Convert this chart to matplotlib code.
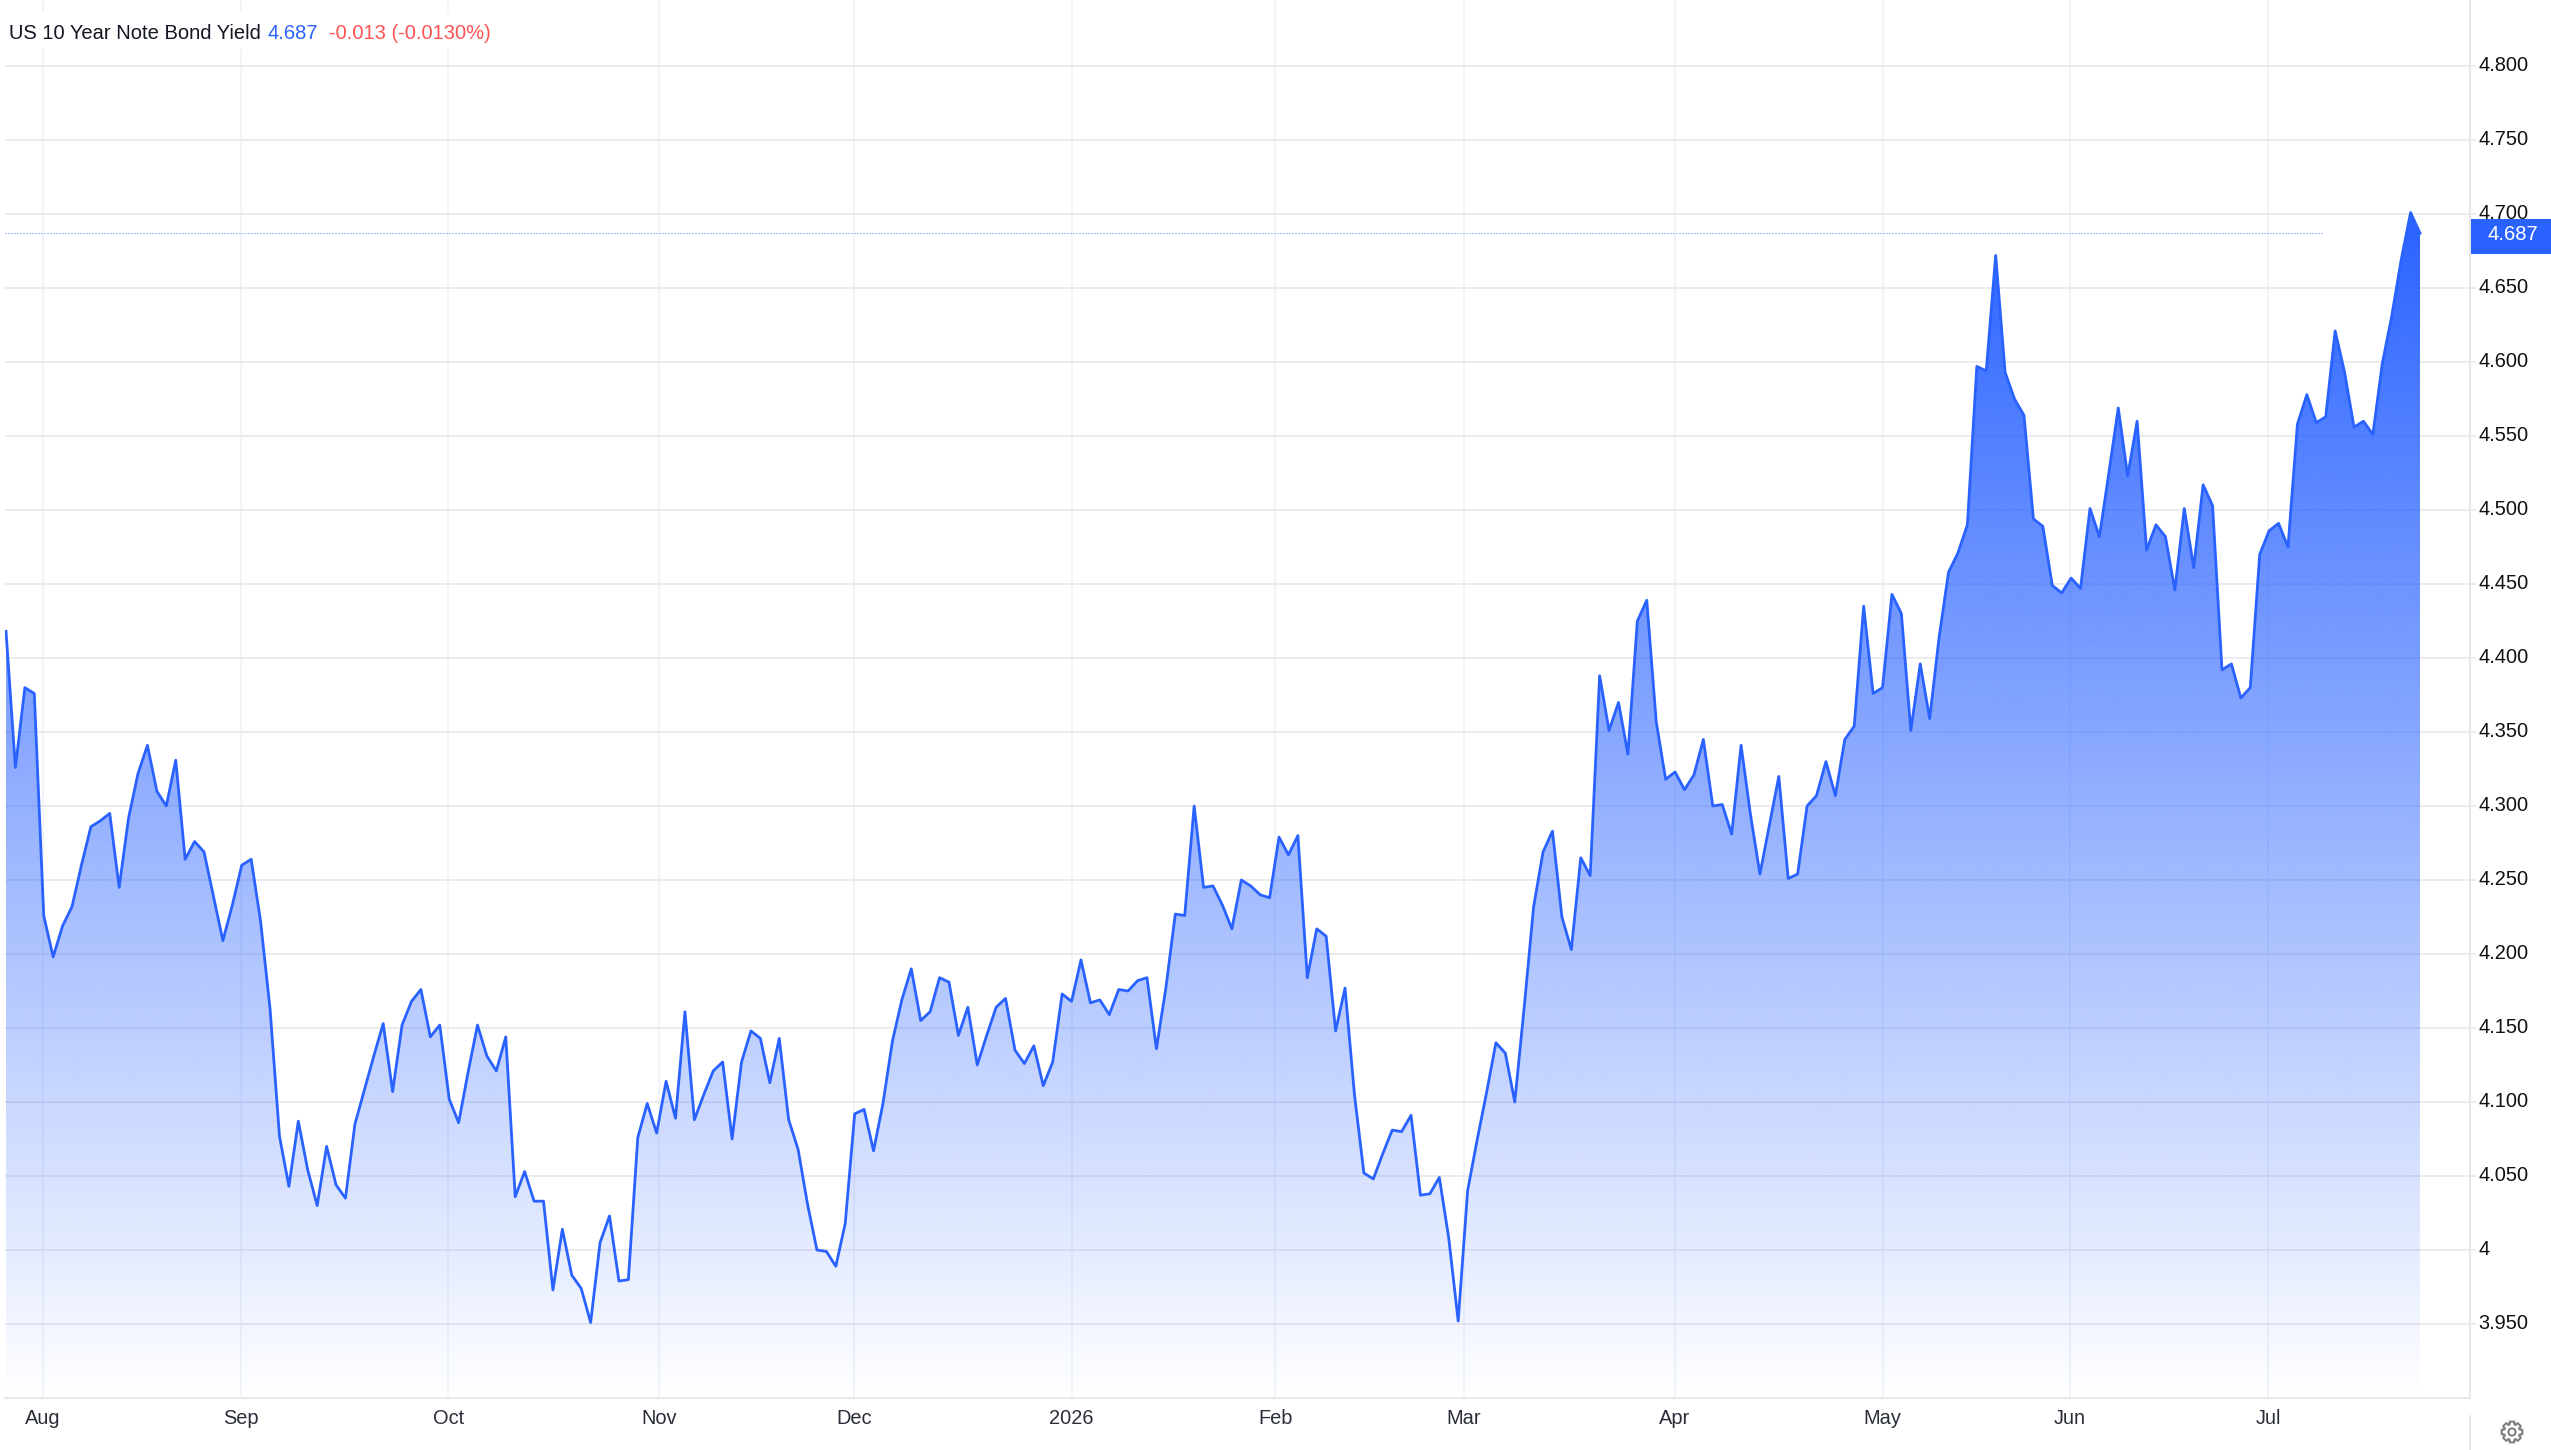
"""
US 10 Year Note Bond Yield: daily close over one year, area chart with a
vertical blue fade, right hand price axis and a last-price tag.
"""
import numpy as np
import matplotlib
matplotlib.use("Agg")
import matplotlib.pyplot as plt
from matplotlib.patches import Rectangle, Polygon, Circle
from matplotlib.transforms import IdentityTransform, ScaledTranslation
from matplotlib.colors import to_rgb

# ── Data ──────────────────────────────────────────────────────────────────
YIELD = [
    4.418, 4.326, 4.380, 4.376, 4.226, 4.198, 4.219, 4.232, 4.260, 4.286,
    4.290, 4.295, 4.245, 4.292, 4.322, 4.341, 4.310, 4.300, 4.331, 4.264,
    4.276, 4.269, 4.239, 4.209, 4.233, 4.260, 4.264, 4.222, 4.163, 4.077,
    4.043, 4.087, 4.054, 4.030, 4.070, 4.044, 4.035, 4.085, 4.108, 4.131,
    4.153, 4.107, 4.152, 4.168, 4.176, 4.144, 4.152, 4.102, 4.086, 4.120,
    4.152, 4.131, 4.121, 4.144, 4.036, 4.053, 4.033, 4.033, 3.973, 4.014,
    3.983, 3.974, 3.951, 4.005, 4.023, 3.979, 3.980, 4.076, 4.099, 4.079,
    4.114, 4.089, 4.161, 4.088, 4.105, 4.121, 4.127, 4.075, 4.127, 4.148,
    4.143, 4.113, 4.143, 4.088, 4.068, 4.031, 4.000, 3.999, 3.989, 4.018,
    4.092, 4.095, 4.067, 4.099, 4.141, 4.169, 4.190, 4.155, 4.161, 4.184,
    4.181, 4.145, 4.164, 4.125, 4.145, 4.164, 4.170, 4.135, 4.126, 4.138,
    4.111, 4.127, 4.173, 4.168, 4.196, 4.167, 4.169, 4.159, 4.176, 4.175,
    4.182, 4.184, 4.136, 4.177, 4.227, 4.226, 4.300, 4.245, 4.246, 4.233,
    4.217, 4.250, 4.246, 4.240, 4.238, 4.279, 4.267, 4.280, 4.184, 4.217,
    4.212, 4.148, 4.177, 4.105, 4.052, 4.048, 4.065, 4.081, 4.080, 4.091,
    4.037, 4.038, 4.049, 4.008, 3.952, 4.040, 4.074, 4.106, 4.140, 4.133,
    4.100, 4.164, 4.232, 4.269, 4.283, 4.225, 4.203, 4.265, 4.253, 4.388,
    4.351, 4.370, 4.335, 4.425, 4.439, 4.357, 4.318, 4.323, 4.311, 4.321,
    4.345, 4.300, 4.301, 4.281, 4.341, 4.294, 4.254, 4.287, 4.320, 4.251,
    4.254, 4.300, 4.307, 4.330, 4.307, 4.345, 4.354, 4.435, 4.376, 4.380,
    4.443, 4.430, 4.351, 4.396, 4.359, 4.414, 4.458, 4.471, 4.490, 4.597,
    4.594, 4.672, 4.593, 4.575, 4.564, 4.494, 4.489, 4.449, 4.444, 4.454,
    4.447, 4.501, 4.482, 4.525, 4.569, 4.523, 4.560, 4.473, 4.490, 4.482,
    4.446, 4.501, 4.461, 4.517, 4.503, 4.392, 4.396, 4.373, 4.380, 4.470,
    4.486, 4.491, 4.475, 4.558, 4.578, 4.559, 4.563, 4.621, 4.593, 4.556,
    4.560, 4.551, 4.599, 4.631, 4.669, 4.701, 4.687,
]
SERIES_NAME = "US 10 Year Note Bond Yield"
CHANGE = -0.013
CHANGE_PCT = -0.0130

MONTH_POS = [3.92, 24.9, 46.9, 69.3, 89.9, 113.0, 134.6, 154.6, 177.0, 199.0, 218.9, 239.9]
MONTH_LABELS = ["Aug", "Sep", "Oct", "Nov", "Dec", "2026", "Feb", "Mar", "Apr", "May", "Jun", "Jul"]

PRICE_TICKS = [3.95, 4.0, 4.05, 4.1, 4.15, 4.2, 4.25, 4.3, 4.35, 4.4,
               4.45, 4.5, 4.55, 4.6, 4.65, 4.7, 4.75, 4.8]
PRICE_LABELS = ["3.950", "4", "4.050", "4.100", "4.150", "4.200", "4.250", "4.300", "4.350",
                "4.400", "4.450", "4.500", "4.550", "4.600", "4.650", "4.700", "4.750", "4.800"]

# ── Config ────────────────────────────────────────────────────────────────
W, H = 2551, 1450
DPI = 100
BLUE = "#2962ff"
RED = "#ff5252"
INK = "#131722"
GRID_H = "#e9e9ec"
GRID_V = "#f1f4f9"
AXIS = "#e6e7ea"
FONT = "Liberation Sans"

plt.rcParams["font.family"] = [FONT, "DejaVu Sans"]


def fx(px):
    return px / W


def fy(px):
    return 1 - px / H


def gear(ax_fig, cx, cy, r_out=10.5, r_in=7.8, teeth=8, color="#808080"):
    # settings button drawn in display pixels
    pts = []
    for k in range(teeth):
        a = 2 * np.pi * k / teeth
        step = 2 * np.pi / teeth
        for da, r in [(-0.30, r_in), (-0.17, r_out), (0.17, r_out), (0.30, r_in)]:
            t = a + da * step * 1.5
            pts.append((cx + r * np.cos(t), cy + r * np.sin(t)))
    ax_fig.add_artist(Polygon(pts, closed=True, fill=False, edgecolor=color, linewidth=1.5,
                              transform=IdentityTransform()))
    ax_fig.add_artist(Circle((cx, cy), 3.6, fill=False, edgecolor=color, linewidth=1.5,
                             transform=IdentityTransform()))


def main():
    y = np.array(YIELD)
    x = np.arange(len(y))
    last = y[-1]

    fig = plt.figure(figsize=(W / DPI, H / DPI), dpi=DPI, facecolor="white")
    ax = fig.add_axes([fx(5), fy(1398), fx(2470 - 5), 1398 / H])

    # vertical fade, clipped to the area under the line
    y_floor, y_top = 3.9, 4.70
    rgb = to_rgb(BLUE)
    grad = np.zeros((400, 2, 4))
    grad[..., 0], grad[..., 1], grad[..., 2] = rgb
    grad[..., 3] = np.linspace(1, 0, 400)[:, None]
    im = ax.imshow(grad, extent=[x[0], x[-1], y_floor, y_top], aspect="auto",
                   origin="upper", zorder=2, interpolation="bilinear")
    area = Polygon(np.column_stack([np.r_[x[0], x, x[-1]], np.r_[y_floor, y, y_floor]]),
                   closed=True, transform=ax.transData, facecolor="none", edgecolor="none")
    ax.add_patch(area)
    im.set_clip_path(area)

    ax.plot(x, y, color=BLUE, linewidth=2.0, zorder=3, solid_joinstyle="round")

    # last price dotted line
    ax.plot([-0.1, 245.6], [last, last], color="#4a7bff", linewidth=0.72,
            linestyle=(0, (1, 2)), zorder=3)

    ax.set_xlim(-0.106, 261.3)
    ax.set_ylim(3.9, 4.8446)

    ax.set_xticks(MONTH_POS)
    ax.set_xticklabels(MONTH_LABELS, fontsize=14.4, color="#2a2e39")
    ax.set_yticks(PRICE_TICKS)
    ax.set_yticklabels(PRICE_LABELS, fontsize=14.4, color="#111111")
    ax.yaxis.tick_right()
    ax.tick_params(axis="x", length=0, pad=8.2)
    ax.tick_params(axis="y", length=4.3, width=1.1, color=AXIS, pad=2)

    # price labels sit a touch above their grid lines
    lift = ScaledTranslation(0, 3 / 72 * 0.72, fig.dpi_scale_trans)
    for lab in ax.get_yticklabels():
        lab.set_transform(lab.get_transform() + lift)

    ax.grid(axis="y", color=GRID_H, linewidth=1.2, zorder=1)
    ax.grid(axis="x", color=GRID_V, linewidth=1.4, zorder=1)
    ax.set_axisbelow(True)
    for side in ("top", "left"):
        ax.spines[side].set_visible(False)
    for side in ("right", "bottom"):
        ax.spines[side].set_color(AXIS)
        ax.spines[side].set_linewidth(1.4)

    # last price tag on the axis
    tag_h = 35 / 1480
    tag_mid = last - 3 / 1480
    ax.add_patch(Rectangle((1.0003, tag_mid - tag_h / 2), 81 / 2465, tag_h,
                           transform=ax.get_yaxis_transform(), facecolor=BLUE,
                           edgecolor="none", clip_on=False, zorder=6))
    ax.text(2512 / 2465 - 5 / 2465 + 1 / 2465, last - 1.5 / 1480, f"{last:.3f}",
            transform=ax.get_yaxis_transform(), color="white", fontsize=14.6,
            ha="center", va="center", zorder=7, clip_on=False)

    # header: white plate over the grid, then name / value / change
    fig.add_artist(Rectangle((fx(5), fy(49)), fx(492), 37 / H, transform=fig.transFigure,
                             facecolor="white", edgecolor="none", zorder=4))
    fig.text(fx(9), fy(33.5), SERIES_NAME, color=INK, fontsize=14.5, va="center", zorder=5)
    fig.text(fx(267), fy(33.5), f"{last:.3f}", color=BLUE, fontsize=14.5, va="center", zorder=5)
    fig.text(fx(329), fy(33.5), f"{CHANGE:.3f} ({CHANGE_PCT:.4f}%)", color=RED, fontsize=14.5,
             va="center", zorder=5)

    # foot of the axis column and the settings button
    fig.add_artist(plt.Line2D([fx(2470), fx(2470)], [fy(1416), fy(1450)], color=AXIS, linewidth=1.4))
    gear(fig, 2512, H - 1432)

    fig.savefig("out.png", dpi=DPI, facecolor="white")
    plt.close(fig)


if __name__ == "__main__":
    main()
